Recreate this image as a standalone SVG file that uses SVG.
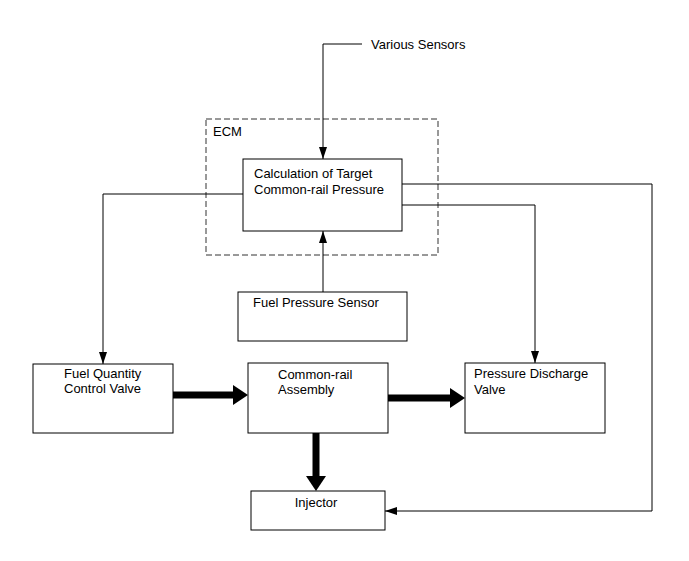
<svg xmlns="http://www.w3.org/2000/svg" width="689" height="561" viewBox="0 0 689 561">
<style>
.box{fill:#fff;stroke:#000;stroke-width:1}
.t{font-family:"Liberation Sans",Arial,sans-serif;font-size:13px;fill:#000}
.thin{fill:none;stroke:#000;stroke-width:1}
.thick{fill:none;stroke:#000;stroke-width:7}
</style>
<defs>
<marker id="a" markerUnits="userSpaceOnUse" markerWidth="14" markerHeight="10" refX="12" refY="4" orient="auto">
<path d="M0,0 L12,4 L0,8 Z" fill="#000"/>
</marker>
</defs>
<rect width="689" height="561" fill="#fff"/>
<g id="ecm">
<rect x="206" y="119" width="232" height="136" fill="none" stroke="#333" stroke-width="1" stroke-dasharray="6,3"/>
<text class="t" x="213" y="136">ECM</text>
</g>
<g id="various-sensors">
<text class="t" x="371" y="49">Various Sensors</text>
</g>
<g id="calc">
<rect class="box" x="243" y="159" width="159" height="72"/>
<text class="t" x="254" y="178">Calculation of Target</text>
<text class="t" x="254" y="194">Common-rail Pressure</text>
</g>
<g id="fps">
<rect class="box" x="238" y="292" width="169" height="49"/>
<text class="t" x="253" y="307">Fuel Pressure Sensor</text>
</g>
<g id="fqcv">
<rect class="box" x="33" y="364" width="140" height="69"/>
<text class="t" x="64" y="378">Fuel Quantity</text>
<text class="t" x="64" y="393">Control Valve</text>
</g>
<g id="cr">
<rect class="box" x="248" y="363" width="140" height="70"/>
<text class="t" x="278" y="379">Common-rail</text>
<text class="t" x="278" y="394">Assembly</text>
</g>
<g id="pdv">
<rect class="box" x="465" y="363" width="140" height="70"/>
<text class="t" x="474" y="378">Pressure Discharge</text>
<text class="t" x="474" y="394">Valve</text>
</g>
<g id="injector">
<rect class="box" x="251" y="491" width="134" height="39"/>
<text class="t" x="316" y="507" text-anchor="middle">Injector</text>
</g>
<g id="connectors">
<polyline class="thin" points="362,44 323,44 323,159" marker-end="url(#a)"/>
<line class="thin" x1="323" y1="292" x2="323" y2="231" marker-end="url(#a)"/>
<polyline class="thin" points="243,194 103,194 103,364" marker-end="url(#a)"/>
<polyline class="thin" points="402,205 535,205 535,363" marker-end="url(#a)"/>
<polyline class="thin" points="402,184 652,184 652,511 385,511" marker-end="url(#a)"/>
<line class="thick" x1="173" y1="395" x2="234" y2="395"/>
<path d="M233,385 L248,395 L233,405 Z" fill="#000"/>
<line class="thick" x1="388" y1="398" x2="451" y2="398"/>
<path d="M450,388 L465,398 L450,408 Z" fill="#000"/>
<line class="thick" x1="316" y1="433" x2="316" y2="477"/>
<path d="M306,476 L316,491 L326,476 Z" fill="#000"/>
</g>
</svg>
